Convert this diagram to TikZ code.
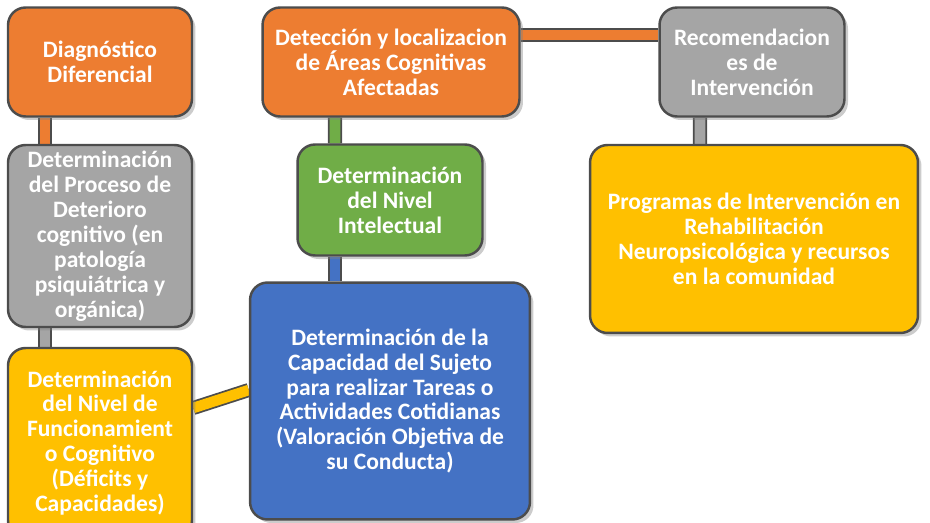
\documentclass[tikz,border=0pt]{standalone}
\usepackage{fontspec}
\setmainfont{Carlito}
\usetikzlibrary{positioning,backgrounds,shadows}
\definecolor{orangebox}{HTML}{ED7D31}
\definecolor{graybox}{HTML}{A5A5A5}
\definecolor{greenbox}{HTML}{70AD47}
\definecolor{bluebox}{HTML}{4472C4}
\definecolor{goldbox}{HTML}{FFC000}
\tikzset{
box/.style={rectangle,rounded corners=10pt,draw=black!70,line width=1.4pt,
  fill=#1,text=white,font=\bfseries\fontsize{13.4}{14.2}\selectfont,align=center,
  inner sep=1pt,drop shadow={shadow xshift=2pt,shadow yshift=-2pt,opacity=.4}},
bar/.style={draw=black!70,line width=1pt,double=#1,double distance=6pt},
}
\begin{document}
\begin{tikzpicture}[x=0.02cm,y=-0.02cm]
    \useasboundingbox (0,0) rectangle (930,523);

    % upper row
    \node[box=orangebox,minimum width=3.68cm,minimum height=2.18cm] (diag) at (100,62)
        {Diagnóstico\\Diferencial};
    \node[box=orangebox,minimum width=5.14cm,minimum height=2.18cm] (detec) at (391,62)
        {Detección y localizacion\\de Áreas Cognitivas\\Afectadas};
    \node[box=graybox,minimum width=3.7cm,minimum height=2.18cm] (recom) at (752,62)
        {Recomendacion\\es de\\Intervención};

    % middle row
    \node[box=graybox,minimum width=3.68cm,minimum height=3.64cm] (proc) at (100,236)
        {Determinación\\del Proceso de\\Deterioro\\cognitivo (en\\patología\\psiquiátrica y\\orgánica)};
    \node[box=greenbox,minimum width=3.7cm,minimum height=2.22cm] (intel) at (390,200)
        {Determinación\\del Nivel\\Intelectual};
    \node[box=goldbox,minimum width=6.56cm,minimum height=3.76cm] (prog) at (754,239)
        {Programas de Intervención en\\Rehabilitación\\Neuropsicológica y recursos\\en la comunidad};

    % lower row
    \node[box=bluebox,minimum width=5.6cm,minimum height=4.74cm] (capac) at (390,401)
        {Determinación de la\\Capacidad del Sujeto\\para realizar Tareas o\\Actividades Cotidianas\\(Valoración Objetiva de\\su Conducta)};
    \node[box=goldbox,minimum width=3.68cm,minimum height=3.8cm] (funcio) at (100,443)
        {Determinación\\del Nivel de\\Funcionamient\\o Cognitivo\\(Déficits y\\Capacidades)};

    \begin{pgfonlayer}{background}
        \draw[bar=orangebox] ([xshift=-1.1cm]diag.south) -- ([xshift=-1.1cm]proc.north);
        \draw[bar=graybox] ([xshift=-1.1cm]proc.south) -- ([xshift=-1.1cm]funcio.north);
        \draw[bar=orangebox] ([yshift=0.54cm]detec.east) -- ([yshift=0.54cm]recom.west);
        \draw[bar=greenbox] ([xshift=-1.12cm]detec.south) -- ([xshift=-1.1cm]intel.north);
        \draw[bar=bluebox] ([xshift=-1.1cm]intel.south) -- ([xshift=-1.1cm]capac.north);
        \draw[bar=graybox] ([xshift=-1.04cm]recom.south) -- ([xshift=-1.08cm]prog.north);
        \draw[bar=goldbox] ([yshift=0.7cm]funcio.east) -- ([yshift=0.22cm]capac.west);
    \end{pgfonlayer}
\end{tikzpicture}
\end{document}
